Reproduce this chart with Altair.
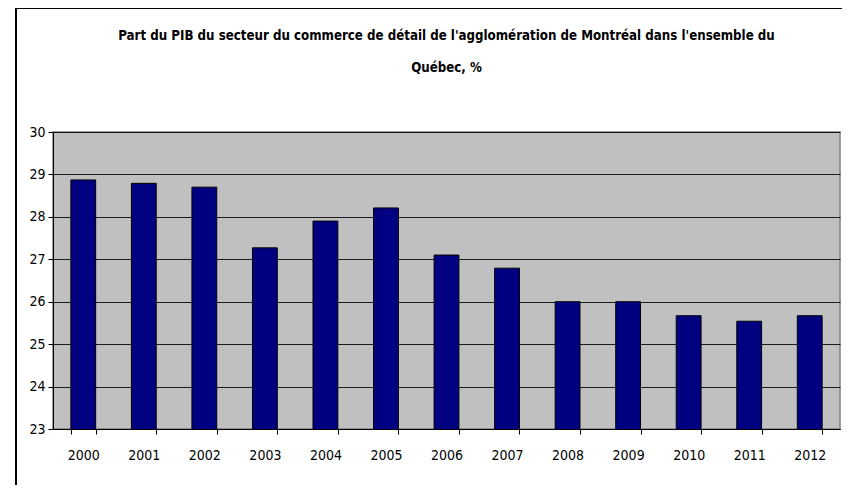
import altair as alt
import pandas as pd

years = ["2000", "2001", "2002", "2003", "2004", "2005", "2006",
         "2007", "2008", "2009", "2010", "2011", "2012"]
values = [28.87, 28.79, 28.70, 27.27, 27.90, 28.21, 27.10,
          26.79, 26.00, 26.00, 25.67, 25.54, 25.67]
title_lines = ["Part du PIB du secteur du commerce de détail de l'agglomération de Montréal dans l'ensemble du",
               "Québec, %"]

df = pd.DataFrame({"annee": years, "part": values})

FONT = "'Liberation Sans Narrow', 'DejaVu Sans Condensed', 'Liberation Sans', sans-serif"

bars = alt.Chart(df).mark_bar(color="#000080", stroke="#000000", strokeWidth=1, clip=True).encode(
    x=alt.X("annee:N", sort=years, title=None,
            scale=alt.Scale(paddingInner=0.59, paddingOuter=0.295),
            axis=alt.Axis(labelAngle=0, tickBand="extent", tickSize=5, tickColor="#000000",
                          domainColor="#000000", labelPadding=14, labelFontSize=14,
                          labelFont=FONT, labelColor="#000000", grid=False)),
    y=alt.Y("part:Q", title=None,
            scale=alt.Scale(domain=[23, 30], nice=False, zero=False),
            axis=alt.Axis(values=[23, 24, 25, 26, 27, 28, 29, 30], tickSize=5,
                          tickColor="#000000", domainColor="#000000", labelPadding=3,
                          labelFontSize=14, labelFont=FONT, labelColor="#000000",
                          grid=True, gridColor="#000000", gridOpacity=0.85, gridWidth=1)),
)

frame_left = alt.Chart(df).mark_rule(color="#000000", strokeWidth=1.5).encode(
    x=alt.value(-37), y=alt.value(-124), y2=alt.value(360))
frame_top = alt.Chart(df).mark_rule(color="#000000", strokeWidth=1.5).encode(
    x=alt.value(-37), x2=alt.value(800), y=alt.value(-124))

chart = alt.layer(bars, frame_left, frame_top).properties(
    width=787, height=297,
    padding={"left": 45, "top": 124, "right": 2, "bottom": 56},
    autosize=alt.AutoSizeParams(type="none"),
    title=alt.TitleParams(title_lines, font=FONT, fontSize=13.2, fontWeight="bold",
                          color="#000000", anchor="middle", frame="group",
                          lineHeight=32, offset=-68),
).configure_view(fill="#C0C0C0", stroke="#808080", strokeWidth=1.5)

chart.save("out.html", embed_options={"renderer": "svg", "actions": False})
